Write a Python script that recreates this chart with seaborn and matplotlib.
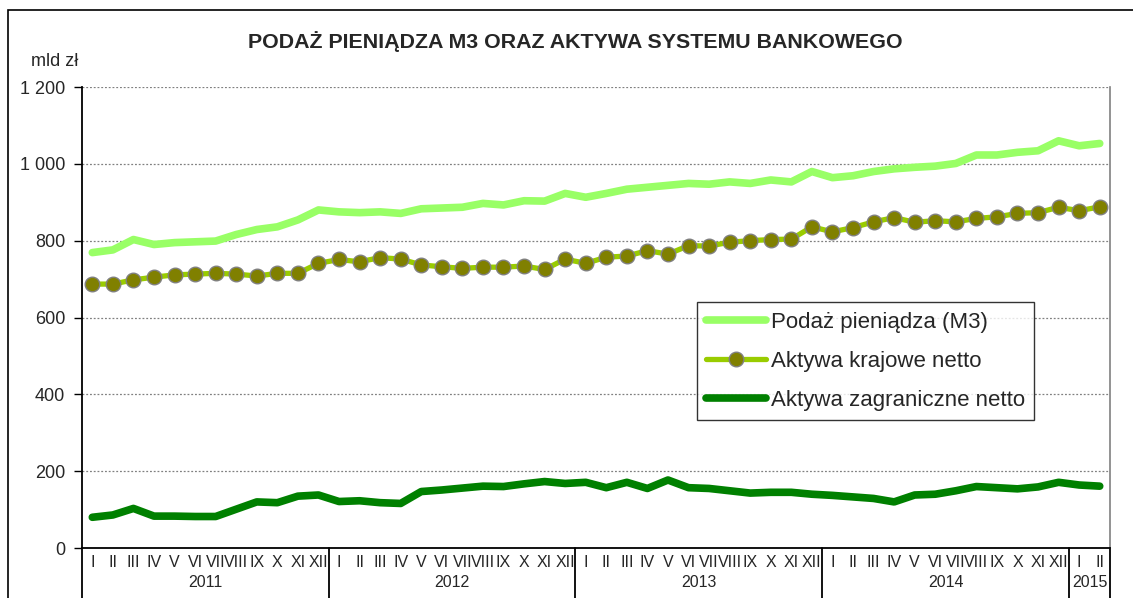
import matplotlib.pyplot as plt
import matplotlib.transforms as mtransforms
from matplotlib.patches import Rectangle
from matplotlib.ticker import FuncFormatter
import pandas as pd
import seaborn as sns

# Dane: mld zł, miesiące I 2011 - II 2015
years = ['2011', '2012', '2013', '2014', '2015']
months_per_year = [12, 12, 12, 12, 2]
roman = ['I', 'II', 'III', 'IV', 'V', 'VI', 'VII', 'VIII', 'IX', 'X', 'XI', 'XII']

m3 = [769, 776, 803, 790, 795, 797, 799, 816, 829, 836, 854, 880,
      875, 873, 875, 871, 883, 885, 887, 897, 893, 904, 903, 923,
      913, 923, 934, 939, 944, 949, 947, 953, 949, 958, 953, 980,
      964, 969, 980, 987, 991, 994, 1001, 1023, 1023, 1030, 1034, 1060,
      1047, 1053]
krajowe = [687, 687, 698, 705, 711, 713, 715, 713, 708, 715, 715, 741,
           751, 745, 756, 752, 737, 732, 728, 731, 731, 734, 725, 752,
           741, 757, 760, 774, 765, 787, 786, 796, 800, 803, 804, 836,
           823, 834, 849, 860, 848, 852, 849, 858, 862, 871, 873, 887,
           878, 888]
zagraniczne = [80, 86, 103, 83, 83, 82, 82, 101, 120, 118, 135, 138,
               121, 123, 118, 116, 147, 151, 156, 161, 160, 167, 173, 168,
               171, 157, 171, 155, 177, 157, 155, 149, 143, 145, 145, 140,
               137, 133, 129, 120, 138, 140, 149, 160, 157, 154, 159, 171,
               164, 161]

month_labels = [roman[m] for n in months_per_year for m in range(n)]
df = pd.DataFrame({'x': range(len(m3)), 'm3': m3, 'krajowe': krajowe,
                   'zagraniczne': zagraniczne})

sns.set_style('white')
plt.rcParams['font.family'] = ['Liberation Sans', 'DejaVu Sans']

fig = plt.figure(figsize=(11.33, 5.98), dpi=100)
ax = fig.add_axes([0.0724, 0.0836, 0.9073, 0.7709])

sns.lineplot(data=df, x='x', y='m3', ax=ax, color='#99FF66', lw=5.5,
             label='Podaż pieniądza (M3)', solid_capstyle='round')
sns.lineplot(data=df, x='x', y='krajowe', ax=ax, color='#99CC00', lw=3.8,
             marker='o', markersize=10.5, markerfacecolor='#808000',
             markeredgecolor='#808080', markeredgewidth=1,
             label='Aktywa krajowe netto')
sns.lineplot(data=df, x='x', y='zagraniczne', ax=ax, color='#008000', lw=5.5,
             label='Aktywa zagraniczne netto', solid_capstyle='round')

ax.set_xlim(-0.5, len(m3) - 0.5)
ax.set_ylim(0, 1200)
ax.set_yticks(range(0, 1201, 200))
ax.yaxis.set_major_formatter(FuncFormatter(lambda v, p: f'{int(v):,}'.replace(',', ' ')))
ax.tick_params(axis='y', direction='out', length=6, width=1, labelsize=13,
               left=True, color='black', pad=6)
ax.set_xticks(range(len(m3)))
ax.set_xticklabels(month_labels, fontsize=11.5)
ax.tick_params(axis='x', length=0, pad=5)
ax.set_xlabel('')
ax.set_ylabel('')
ax.grid(axis='y', color='#808080', ls=(0, (1.5, 1.5)), lw=0.9)
ax.set_axisbelow(True)

ax.spines['top'].set_visible(False)
ax.spines['right'].set_color('#808080')
ax.spines['right'].set_linewidth(1.2)
ax.spines['left'].set_color('black')
ax.spines['left'].set_linewidth(1.3)
ax.spines['bottom'].set_color('black')
ax.spines['bottom'].set_linewidth(1.3)

# dwupoziomowa oś X: lata i separatory
trans = mtransforms.blended_transform_factory(ax.transData, ax.transAxes)
start = -0.5
for yr, n in zip(years, months_per_year):
    ax.plot([start, start], [0, -0.12], transform=trans, color='black',
            lw=1.3, clip_on=False)
    ax.text(start + n / 2, -0.075, yr, transform=trans, ha='center',
            va='center', fontsize=11.5)
    start += n
ax.plot([start, start], [0, -0.12], transform=trans, color='black',
        lw=1.3, clip_on=False)

leg = ax.legend(loc='upper left', bbox_to_anchor=(0.598, 0.533), fontsize=16,
                frameon=True, fancybox=False, edgecolor='black',
                handlelength=2.7, handletextpad=0.2, labelspacing=0.82,
                borderpad=0.42, borderaxespad=0)
leg.get_frame().set_linewidth(1)

fig.text(575 / 1133, 1 - 42 / 598, 'PODAŻ PIENIĄDZA M3 ORAZ AKTYWA SYSTEMU BANKOWEGO',
         ha='center', va='center', fontsize=15.4, fontweight='bold')
fig.text(55 / 1133, 1 - 62 / 598, 'mld zł', ha='center', va='center', fontsize=13)

fig.patches.append(Rectangle((8 / 1133, -0.1), 1.2, 1 - 9.5 / 598 + 0.1,
                             transform=fig.transFigure, fill=False,
                             edgecolor='black', lw=1.2))

fig.savefig('out.png', dpi=100)
